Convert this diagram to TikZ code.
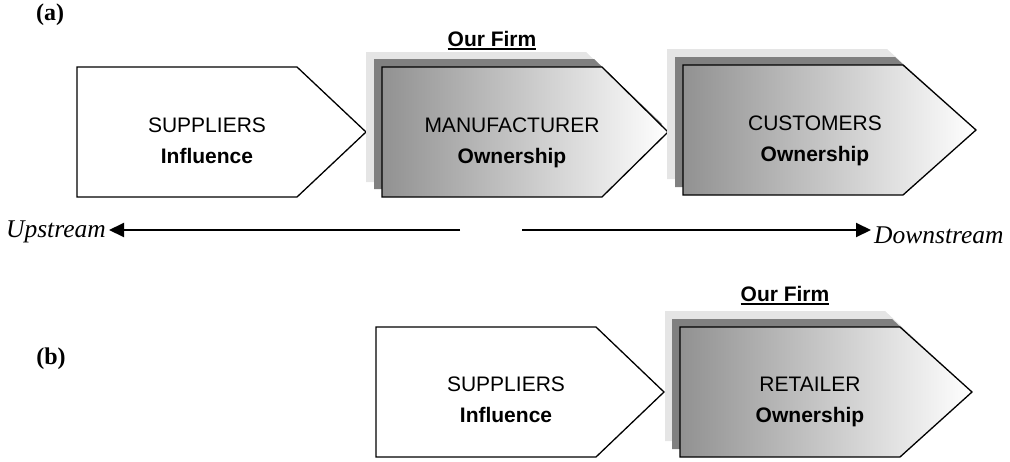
\documentclass[tikz,border=0pt]{standalone}
\usepackage{fontspec}
\setmainfont{Liberation Serif}
\setsansfont{Liberation Sans}
\usetikzlibrary{arrows.meta}

\definecolor{backlight}{gray}{0.9}
\definecolor{backdark}{gray}{0.5}
\definecolor{firmgray}{gray}{0.57}

% five-sided box: left x, top y, length of the point
\newcommand{\chevron}[3]{(#1,#2) -- ++(220,0) -- ++(#3,65) -- ++(-#3,65) -- ++(-220,0) -- cycle}
\newcommand{\firmline}[1]{\setbox0\hbox{#1}\rlap{\rule[-3.5pt]{\wd0}{1.8pt}}\box0}

\tikzset{
  plain/.style={draw=black, line width=1.3pt, fill=white},
  firm/.style={draw=black, line width=1.3pt, left color=firmgray, right color=white},
  back1/.style={fill=backlight},
  back2/.style={fill=backdark},
  boxtext/.style={align=center, font=\sffamily\fontsize{21}{31}\selectfont},
  firmtitle/.style={font=\sffamily\bfseries\fontsize{21}{25}\selectfont},
  flowtext/.style={font=\itshape\fontsize{25.5}{30}\selectfont, inner sep=3pt},
  panel/.style={font=\bfseries\fontsize{24}{28}\selectfont},
  flow/.style={line width=2pt, -{Triangle[length=15pt,width=14pt]}}
}

\begin{document}
\begin{tikzpicture}[x=1pt,y=-1pt]
  \useasboundingbox (0,0) rectangle (1010,461);

  \node[panel] (pa) at (50,15) {(a)};
  \node[panel] (pb) at (51,359) {(b)};

  \draw[plain] \chevron{77}{67}{69};
  \fill[back1] \chevron{366}{52}{68};
  \fill[back2] \chevron{374}{59}{68};
  \draw[firm] \chevron{382}{67}{66};
  \fill[back1] \chevron{667}{49}{72};
  \fill[back2] \chevron{675}{57}{72};
  \draw[firm] \chevron{683}{65}{73};

  \draw[plain] \chevron{376}{327}{68};
  \fill[back1] \chevron{665}{311}{70};
  \fill[back2] \chevron{672}{319}{70};
  \draw[firm] \chevron{680}{327}{72};

  \node[boxtext] (supa) at (207,143) {SUPPLIERS\\\textbf{Influence\vphantom{p}}};
  \node[boxtext] (mana) at (512,143) {MANUFACTURER\\\textbf{Ownership}};
  \node[boxtext] (cusa) at (815,141) {CUSTOMERS\\\textbf{Ownership}};
  \node[boxtext] (supb) at (506,402) {SUPPLIERS\\\textbf{Influence\vphantom{p}}};
  \node[boxtext] (retb) at (810,402) {RETAILER\\\textbf{Ownership}};

  \node[firmtitle, anchor=base] (firma) at (492,46) {\firmline{Our Firm}};
  \node[firmtitle, anchor=base] (firmb) at (785,301) {\firmline{Our Firm}};

  \node[flowtext, anchor=base east] (up) at (109,237) {Upstream};
  \node[flowtext, anchor=base west] (down) at (871,243) {Downstream};
  \coordinate (upstart) at (460,230);
  \coordinate (downstart) at (522,230);
  \draw[flow] (upstart) -- (upstart -| up.east);
  \draw[flow] (downstart) -- (downstart -| down.west);
\end{tikzpicture}
\end{document}
